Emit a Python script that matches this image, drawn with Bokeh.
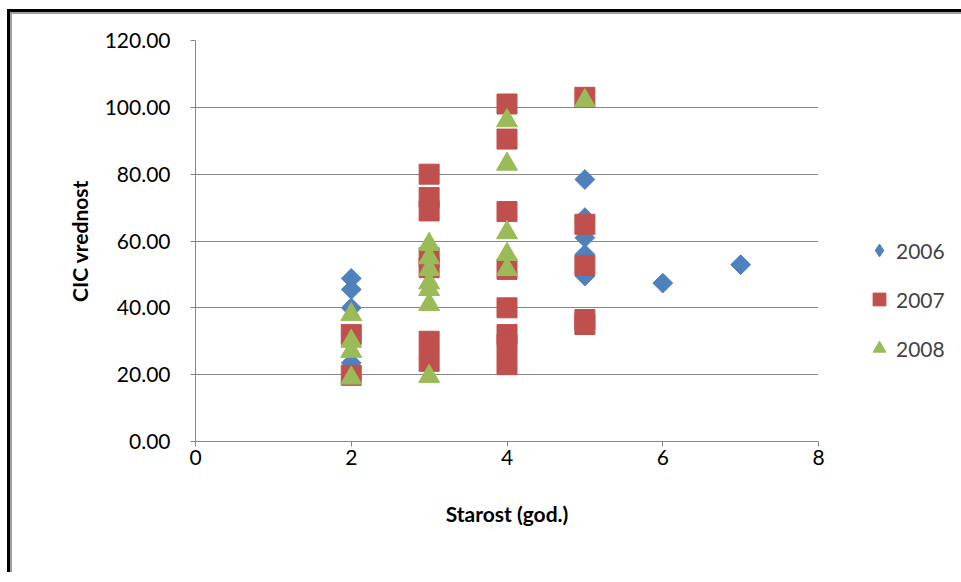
import math
import numpy as np
from bokeh.plotting import figure
from bokeh.models import Legend, LegendItem, NumeralTickFormatter, FixedTicker, Range1d
from bokeh.embed import file_html
from bokeh.resources import INLINE

# ---- data ----
x_2006 = [2, 2, 2, 2, 5, 5, 5, 5, 5, 6, 7]
y_2006 = [48.8, 45.5, 40.0, 23.5, 78.4, 67.0, 61.0, 56.0, 49.5, 47.4, 52.9]

x_2007 = [2, 2, 3, 3, 3, 3, 3, 3, 3, 4, 4, 4, 4, 4, 4, 4, 4, 5, 5, 5, 5, 5]
y_2007 = [32.0, 19.8, 80.0, 73.0, 69.0, 55.0, 52.0, 30.0, 24.0,
          101.0, 90.5, 68.8, 51.5, 40.0, 32.0, 29.0, 23.0,
          103.0, 65.0, 52.7, 36.5, 35.0]

x_2008 = [2, 2, 2, 2, 3, 3, 3, 3, 3, 3, 3, 4, 4, 4, 4, 4, 5]
y_2008 = [38.0, 30.0, 27.0, 19.0, 59.0, 55.0, 51.5, 47.5, 45.5, 41.0, 19.5,
          96.0, 83.0, 62.5, 56.0, 51.5, 102.0]

series_names = ["2006", "2007", "2008"]
x_ticks = [0, 2, 4, 6, 8]
y_ticks = [0, 20, 40, 60, 80, 100, 120]

BLUE = "#4F81BD"
RED = "#C0504D"
GREEN = "#9BBB59"
GRID = "#868686"
FONT = "Lato"

p = figure(frame_width=623, frame_height=401, output_backend="svg",
           toolbar_location=None,
           x_range=Range1d(0, 8), y_range=Range1d(0, 120),
           min_border_left=185, min_border_right=131, min_border_top=28,
           min_border_bottom=131)
p.styles = {"border-top": "3px solid black", "border-left": "3px solid black",
            "margin-top": "9px", "margin-left": "7px",
            "box-shadow": "inset 2px 2px 0 #A0A0A0"}
p.border_fill_alpha = 0
p.outline_line_color = None
p.xgrid.grid_line_color = None
p.ygrid.grid_line_color = GRID
p.ygrid.grid_line_width = 1

p.xaxis.ticker = FixedTicker(ticks=x_ticks)
p.yaxis.ticker = FixedTicker(ticks=y_ticks)
p.yaxis.formatter = NumeralTickFormatter(format="0.00")
for ax in (p.xaxis[0], p.yaxis[0]):
    ax.axis_line_color = GRID
    ax.major_tick_line_color = GRID
    ax.minor_tick_line_color = None
    ax.major_tick_out = 5
    ax.major_tick_in = 0
    ax.major_label_text_font = FONT
    ax.major_label_text_font_size = "21px"
    ax.major_label_text_color = "#000000"
    ax.axis_label_text_font = FONT
    ax.axis_label_text_font_size = "21px"
    ax.axis_label_text_font_style = "bold"
    ax.axis_label_text_color = "#000000"

p.xaxis.axis_label = "Starost (god.)"
p.yaxis.axis_label = "CIC vrednost"
p.yaxis.major_label_standoff = 20
p.yaxis.axis_label_standoff = 10
p.xaxis.major_label_standoff = 3
p.xaxis.axis_label_standoff = 33

r06 = p.scatter(x_2006, y_2006, marker="square", size=14, angle=math.pi / 4,
                fill_color=BLUE, line_color=BLUE)
r07 = p.scatter(x_2007, y_2007, marker="square", size=20,
                fill_color=RED, line_color=RED)
r08 = p.scatter(x_2008, y_2008, marker="triangle", size=21,
                fill_color=GREEN, line_color=GREEN)
# legend-only key (not plotted: NaN position) so the legend shows a diamond
r06_key = p.scatter(x=np.array([np.nan]), y=np.array([np.nan]),
                    marker="diamond", size=14, fill_color=BLUE, line_color=BLUE)

legend = Legend(items=[LegendItem(label=series_names[0], renderers=[r06_key]),
                       LegendItem(label=series_names[1], renderers=[r07]),
                       LegendItem(label=series_names[2], renderers=[r08])],
                location=(44, 77), padding=0, margin=0, spacing=17,
                glyph_width=34, glyph_height=32, label_height=32,
                label_standoff=0, border_line_color=None,
                background_fill_alpha=0,
                label_text_font=FONT, label_text_font_size="21px")
p.add_layout(legend, "right")

open("out.html", "w").write(file_html(p, INLINE))
